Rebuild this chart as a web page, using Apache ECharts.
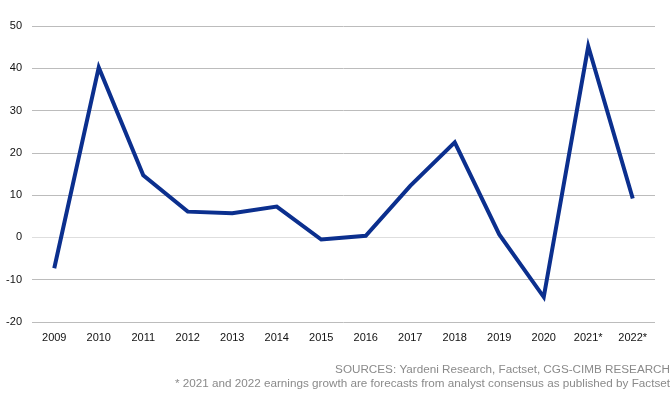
<!DOCTYPE html>
<html><head><meta charset="utf-8">
<script src="https://cdn.jsdelivr.net/npm/echarts@6/dist/echarts.min.js"></script>
<style>html,body{margin:0;padding:0;background:#fff}#c{width:672px;height:394px}</style>
</head><body><div id="c"></div>
<script>
var categories = ['2009','2010','2011','2012','2013','2014','2015','2016','2017','2018','2019','2020','2021*','2022*'];
var growth = [-7.3, 40.2, 14.7, 6.1, 5.7, 7.3, -0.5, 0.4, 12.2, 22.5, 0.7, -14.1, 45.2, 9.2];
var yTicks = [-20, -10, 0, 10, 20, 30, 40, 50];
var footnotes = ['SOURCES: Yardeni Research, Factset, CGS-CIMB RESEARCH', '* 2021 and 2022 earnings growth are forecasts from analyst consensus as published by Factset'];

var chart = echarts.init(document.getElementById('c'));
var gridColors = yTicks.map(function(v){ return v === 0 ? '#dedede' : '#bcbcbc'; });
chart.setOption({
  animation: false,
  textStyle: {fontFamily: 'Liberation Sans, Arial, sans-serif'},
  grid: {left: 32, right: 17, top: 26, bottom: 72},
  xAxis: {
    type: 'category', data: categories, boundaryGap: true,
    axisLine: {show: false}, axisTick: {show: false},
    axisLabel: {color: '#111', fontSize: 11, margin: 10}
  },
  yAxis: {
    type: 'value', min: yTicks[0], max: yTicks[yTicks.length-1], interval: 10,
    axisLine: {show: false}, axisTick: {show: false},
    axisLabel: {color: '#111', fontSize: 11, margin: 10},
    splitLine: {lineStyle: {color: gridColors, width: 1}}
  },
  graphic: [
    {type: 'text', right: 2, top: 364, style: {text: footnotes[0], fill: '#8a8a8a', font: '11.7px Liberation Sans, Arial, sans-serif', textAlign: 'right'}},
    {type: 'text', right: 2, top: 378, style: {text: footnotes[1], fill: '#8a8a8a', font: '11.7px Liberation Sans, Arial, sans-serif', textAlign: 'right'}}
  ],
  series: [{
    type: 'line', data: growth, symbol: 'none',
    lineStyle: {color: '#0b2f8e', width: 4, join: 'miter'}
  }]
});
</script></body></html>
